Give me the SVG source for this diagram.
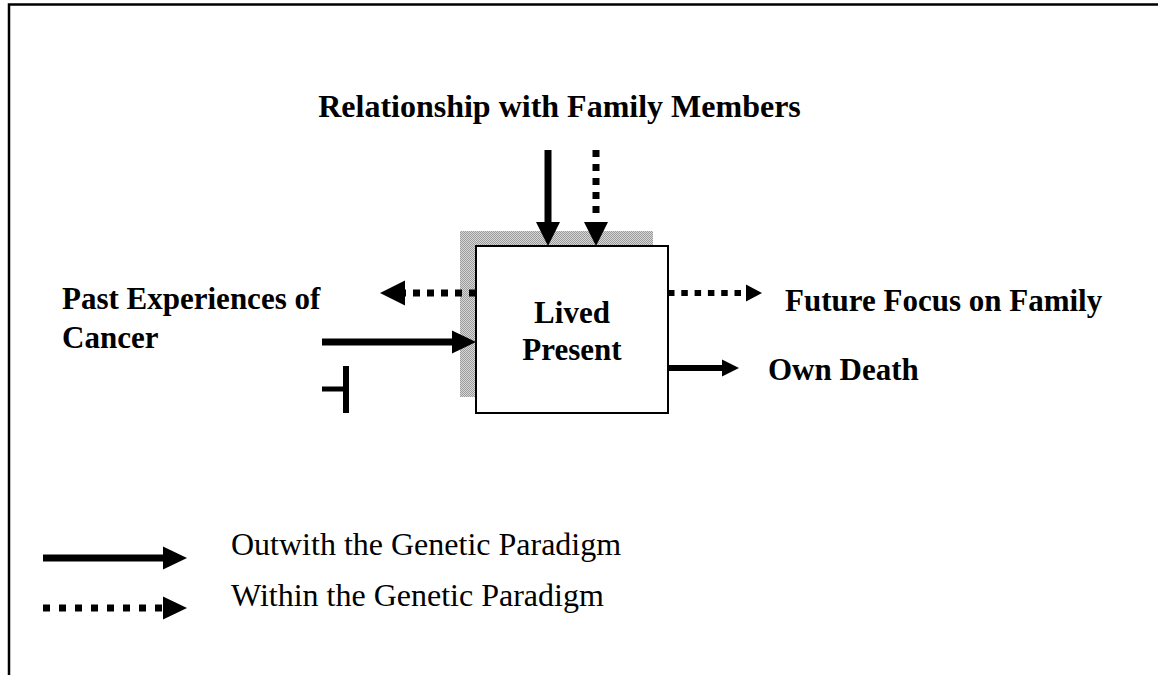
<svg xmlns="http://www.w3.org/2000/svg" width="1158" height="675" viewBox="0 0 1158 675">
  <style>
    .lbl { font-family: "Liberation Serif", "Times New Roman", serif; font-weight: bold; font-size: 31px; fill: #000; }
    .leg { font-family: "Liberation Serif", "Times New Roman", serif; font-size: 32px; fill: #000; }
    .solid { stroke: #000; stroke-width: 7; fill: none; }
    .dot { stroke: #000; stroke-width: 7; fill: none; stroke-dasharray: 7 7; }
    .thin { stroke-width: 6; }
    .frame { stroke: #000; stroke-width: 2.5; fill: none; }
  </style>
  <defs>
    <pattern id="shade" width="2" height="2" patternUnits="userSpaceOnUse">
      <rect width="2" height="2" fill="#d8d8d8"/>
      <rect width="1" height="1" fill="#9a9a9a"/>
      <rect x="1" y="1" width="1" height="1" fill="#9a9a9a"/>
    </pattern>
  </defs>

  <rect width="1158" height="675" fill="#fff"/>

  <!-- page frame -->
  <path class="frame" d="M9,675 V4.5 H1158"/>

  <!-- central box -->
  <g id="lived-present">
    <rect x="460" y="231" width="193" height="166" fill="url(#shade)"/>
    <rect x="476" y="246" width="192" height="167" fill="#fff" stroke="#000" stroke-width="2"/>
    <text class="lbl" x="572" y="323" text-anchor="middle">Lived</text>
    <text class="lbl" x="572" y="360" text-anchor="middle">Present</text>
  </g>

  <g id="relationship">
    <text class="lbl" x="559.5" y="117" text-anchor="middle" style="font-size:32px">Relationship with Family Members</text>
  </g>

  <g id="past-experiences">
    <text class="lbl" x="62" y="309">Past Experiences of</text>
    <text class="lbl" x="62" y="348">Cancer</text>
  </g>

  <g id="future-focus">
    <text class="lbl" x="785" y="311">Future Focus on Family</text>
  </g>

  <g id="own-death">
    <text class="lbl" x="768" y="380">Own Death</text>
  </g>

  <g id="legend">
    <line class="solid" x1="43" y1="558" x2="164" y2="558"/>
    <polygon points="163,546.5 187,558 163,569.5"/>
    <line class="dot" x1="43" y1="608" x2="163" y2="608" style="stroke-dasharray:7 9"/>
    <polygon points="163,596.5 187,608 163,619.5"/>
    <text class="leg" x="231" y="555">Outwith the Genetic Paradigm</text>
    <text class="leg" x="231" y="606">Within the Genetic Paradigm</text>
  </g>

  <g id="connectors">
    <!-- from family relationships, down into the box -->
    <line class="solid" x1="548" y1="150" x2="548" y2="224"/>
    <polygon points="536,222 560,222 548,246"/>
    <line class="dot" x1="596" y1="150" x2="596" y2="214"/>
    <polygon points="584,222 608,222 596,246"/>

    <!-- out of the box to past experiences -->
    <line class="dot" x1="476" y1="293" x2="404" y2="293"/>
    <polygon points="405,280.5 405,305.5 380,293"/>

    <!-- from past experiences into the box -->
    <line class="solid" x1="322" y1="342" x2="454" y2="342"/>
    <polygon points="452,330.5 452,353.5 476,342"/>

    <!-- blocked path -->
    <line stroke="#000" stroke-width="5" x1="322" y1="389" x2="347" y2="389"/>
    <line stroke="#000" stroke-width="6" x1="346" y1="366" x2="346" y2="413"/>

    <!-- out of the box to future focus -->
    <line class="dot thin" x1="668" y1="293" x2="744" y2="293" style="stroke-dasharray:6.5 6.8"/>
    <polygon points="746,284.5 762,293 746,301.5"/>

    <!-- out of the box to own death -->
    <line class="solid thin" x1="668" y1="368" x2="724" y2="368"/>
    <polygon points="722,359.5 739,368 722,376.5"/>
  </g>
</svg>
